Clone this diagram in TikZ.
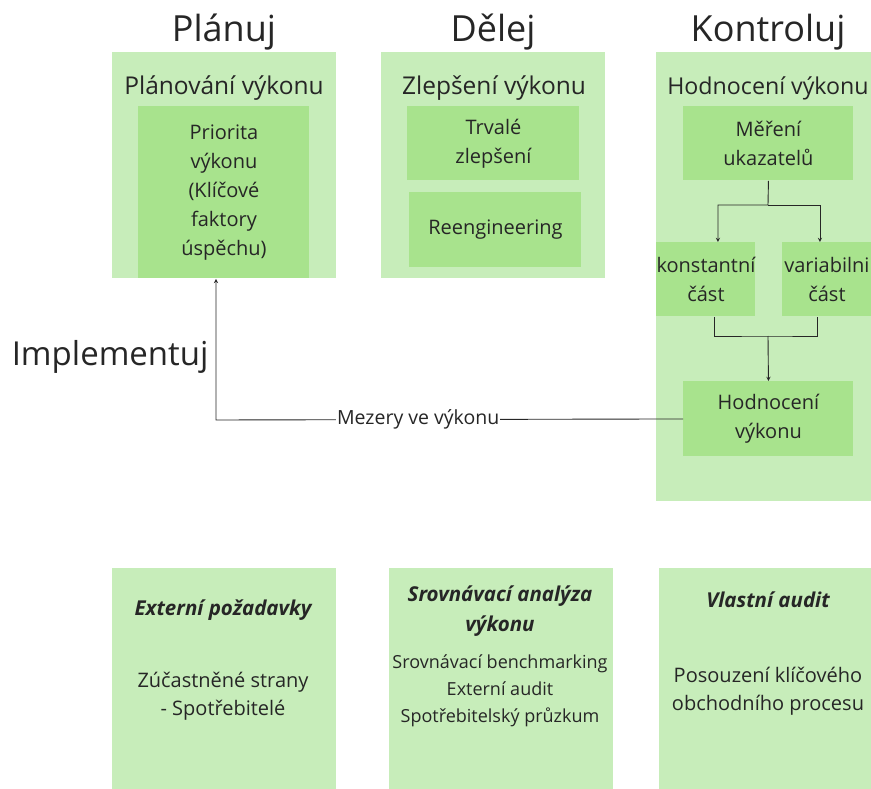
\documentclass[tikz,border=0pt]{standalone}
\usepackage{fontspec}
\setmainfont{Open Sans}
\definecolor{paleg}{RGB}{199,237,186}
\definecolor{leafg}{RGB}{168,227,141}
\definecolor{ink}{RGB}{38,38,38}
\begin{document}
\begin{tikzpicture}[x=1pt,y=-1pt,>=stealth,line width=0.9pt,draw=ink,text=ink,
  panel/.style={fill=paleg,inner sep=0pt,anchor=north west},
  cell/.style={fill=leafg,inner sep=0pt,anchor=north west,align=center,
    font=\fontsize{20}{29}\selectfont},
  phase/.style={font=\fontsize{36}{42}\selectfont},
  head/.style={font=\fontsize{24.5}{28}\selectfont},
  body/.style={align=center,font=\fontsize{20}{28}\selectfont},
  bodyhead/.style={align=center,font=\fontsize{20.5}{30}\selectfont\bfseries\itshape}]
\useasboundingbox (0,0) rectangle (871,789);
% phases
\node[phase] (planuj) at (224,32) {Plánuj};
\node[phase] (delej) at (493,32) {Dělej};
\node[phase] (kontroluj) at (768,32) {Kontroluj};
\node[phase,anchor=west,font=\fontsize{33}{40}\selectfont] (impl) at (8,357) {Implementuj};
% upper panels
\node[panel,minimum width=224pt,minimum height=226pt] (planbox) at (112,52) {};
\node[panel,minimum width=224pt,minimum height=226pt] (delbox) at (381,52) {};
\node[panel,minimum width=215pt,minimum height=449pt] (kontbox) at (656,52) {};
\node[head] (planhead) at (224,88) {Plánování výkonu};
\node[head] (delhead) at (494,88) {Zlepšení výkonu};
\node[head,font=\fontsize{23.2}{28}\selectfont] (konthead) at (768,88) {Hodnocení výkonu};
\node[cell,minimum width=171pt,minimum height=172pt] (prio) at (138,106)
  {Priorita\\výkonu\\(Klíčové\\faktory\\úspěchu)};
\node[cell,minimum width=172pt,minimum height=74pt] (trvale) at (407,106)
  {Trvalé\\zlepšení};
\node[cell,minimum width=172pt,minimum height=75pt] (reeng) at (409,192)
  {Reengineering};
\node[cell,minimum width=170pt,minimum height=74pt] (mer) at (683,106)
  {Měření\\ukazatelů};
\node[cell,minimum width=99pt,minimum height=74pt] (konst) at (656,242)
  {konstantní\\část};
\node[cell,minimum width=89pt,minimum height=74pt] (var) at (782,242)
  {variabilni\\část};
\node[cell,minimum width=170pt,minimum height=75pt] (hod) at (683,381)
  {Hodnocení\\výkonu};
% connectors
\coordinate (split) at (768,205);
\coordinate (join) at (768,336);
\coordinate (turn) at (216,420);
\draw[->] (mer.south) -- (split) -| ([xshift=12pt]konst.north);
\draw[->] (split) -| ([xshift=-7pt]var.north);
\draw ([xshift=8pt]konst.south) |- (join) -| ([xshift=-10pt]var.south);
\draw[->] (join) -- (hod.north);
\draw[->] (hod.west) -- node[pos=0.567,fill=white,inner sep=1pt,
  font=\fontsize{19.5}{22}\selectfont]{Mezery ve výkonu} (turn) -- (turn |- prio.south);
% lower panels
\node[panel,minimum width=224pt,minimum height=221pt] (extbox) at (112,568) {};
\node[panel,minimum width=224pt,minimum height=221pt] (srobox) at (389,568) {};
\node[panel,minimum width=212pt,minimum height=221pt] (vlabox) at (659,568) {};
\node[bodyhead] (exthead) at (223,610) {Externí požadavky};
\node[body] (exttext) at (223,696) {Zúčastněné strany\\- Spotřebitelé};
\node[bodyhead] (srohead) at (500,611) {Srovnávací analýza\\výkonu};
\node[body,font=\fontsize{18}{27}\selectfont] (srotext) at (500,691)
  {Srovnávací benchmarking\\Externí audit\\Spotřebitelský průzkum};
\node[bodyhead] (vlahead) at (768,600) {Vlastní audit};
\node[body] (vlatext) at (768,691) {Posouzení klíčového\\obchodního procesu};
\end{tikzpicture}
\end{document}
